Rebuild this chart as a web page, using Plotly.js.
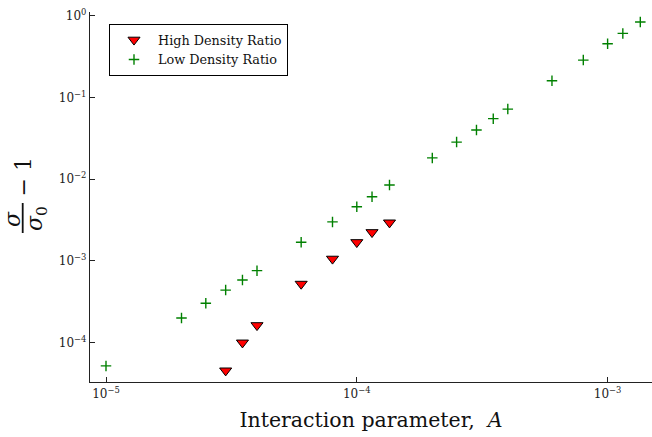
<!DOCTYPE html>
<html>
<head>
<meta charset="utf-8">
<script src="https://cdn.plot.ly/plotly-3.0.1.min.js"></script>
<style>
  html, body { margin: 0; padding: 0; background: #fff; }
  #chart { width: 652px; height: 437px; }
</style>
</head>
<body>
<div id="chart"></div>
<script>
// Interaction parameter A for each run
const highDensityA = [3e-5, 3.5e-5, 4e-5, 6e-5, 8e-5, 1e-4, 1.15e-4, 1.35e-4];
// sigma/sigma0 - 1 for the high density ratio runs
const highDensitySigma = [4.55e-5, 1.0e-4, 1.63e-4, 5.23e-4, 1.06e-3, 1.69e-3, 2.24e-3, 2.94e-3];

const lowDensityA = [1e-5, 2e-5, 2.5e-5, 3e-5, 3.5e-5, 4e-5, 6e-5, 8e-5, 1e-4, 1.15e-4, 1.35e-4,
                     2e-4, 2.5e-4, 3e-4, 3.5e-4, 4e-4, 6e-4, 8e-4, 1e-3, 1.15e-3, 1.35e-3];
const lowDensitySigma = [5.2e-5, 2.0e-4, 3.03e-4, 4.4e-4, 5.85e-4, 7.6e-4, 1.69e-3, 3.0e-3, 4.6e-3,
                         6.1e-3, 8.5e-3, 1.82e-2, 2.84e-2, 4.0e-2, 5.5e-2, 7.2e-2, 0.16, 0.286,
                         0.454, 0.607, 0.836];

const seriesNames = ['High Density Ratio', 'Low Density Ratio'];

const xTickVals = [1e-5, 1e-4, 1e-3];
const xTickText = ['10<sup>\u22125</sup>', '10<sup>\u22124</sup>', '10<sup>\u22123</sup>'];
const yTickVals = [1e-4, 1e-3, 1e-2, 1e-1, 1];
const yTickText = ['10<sup>\u22124</sup>', '10<sup>\u22123</sup>', '10<sup>\u22122</sup>',
                   '10<sup>\u22121</sup>', '10<sup>0</sup>'];

const serif = 'DejaVu Serif, Liberation Serif, serif';

// plot-area geometry in pixels, used to place the hand-built y-axis fraction label
const W = 652, H = 437;
const M = { l: 90, r: 0, t: 12, b: 55 };
const plotW = W - M.l - M.r, plotH = H - M.t - M.b;
const px = x => (x - M.l) / plotW;
const py = y => (H - M.b - y) / plotH;

const traces = [
  {
    name: seriesNames[0],
    x: highDensityA, y: highDensitySigma,
    type: 'scatter', mode: 'markers',
    marker: { symbol: 'triangle-down', size: 10.5, color: '#ff0000',
              line: { color: '#000000', width: 1 } }
  },
  {
    name: seriesNames[1],
    x: lowDensityA, y: lowDensitySigma,
    type: 'scatter', mode: 'markers',
    marker: { symbol: 'cross-thin', size: 7.5, color: '#008000',
              line: { color: '#008000', width: 1.4 } }
  }
];

const axisCommon = {
  type: 'log',
  showline: true, linecolor: '#222', linewidth: 1.2,
  ticks: 'inside', ticklen: 5, tickwidth: 1, tickcolor: '#222',
  showgrid: false, zeroline: false, mirror: false,
  tickmode: 'array',
  tickfont: { family: serif, size: 12, color: '#222' }
};

const layout = {
  width: W, height: H,
  margin: M,
  paper_bgcolor: '#ffffff', plot_bgcolor: '#ffffff',
  showlegend: true,
  xaxis: Object.assign({}, axisCommon, {
    range: [-5.0638, -2.823],
    tickvals: xTickVals, ticktext: xTickText,
    title: { text: 'Interaction parameter,\u00a0 <i>A</i>',
             font: { family: serif, size: 20.5, color: '#111' }, standoff: 13 }
  }),
  yaxis: Object.assign({}, axisCommon, {
    range: [-4.481, 0.045],
    tickvals: yTickVals, ticktext: yTickText
  }),
  legend: {
    x: px(109), y: py(24), xanchor: 'left', yanchor: 'top',
    bgcolor: '#ffffff', bordercolor: '#000000', borderwidth: 1,
    font: { family: serif, size: 12.8, color: '#111' },
    itemwidth: 38,
    tracegroupgap: 0
  },
  // y-axis label: sigma over sigma_0, minus one, stacked as a fraction
  annotations: [
    { text: '<i>\u03c3</i>', xref: 'paper', yref: 'paper', x: px(12), y: py(219),
      textangle: -90, showarrow: false, xanchor: 'center', yanchor: 'middle',
      font: { family: serif, size: 22, color: '#111' } },
    { text: '<i>\u03c3</i><sub>0</sub>', xref: 'paper', yref: 'paper', x: px(36), y: py(219),
      textangle: -90, showarrow: false, xanchor: 'center', yanchor: 'middle',
      font: { family: serif, size: 22, color: '#111' } },
    { text: '\u2212 1', xref: 'paper', yref: 'paper', x: px(22.5), y: py(177),
      textangle: -90, showarrow: false, xanchor: 'center', yanchor: 'middle',
      font: { family: serif, size: 22, color: '#111' } }
  ],
  shapes: [
    { type: 'line', xref: 'paper', yref: 'paper',
      x0: px(22.7), x1: px(22.7), y0: py(203), y1: py(233),
      line: { color: '#111', width: 1.8 } }
  ]
};

Plotly.newPlot('chart', traces, layout, { displayModeBar: false, staticPlot: true });
</script>
</body>
</html>
